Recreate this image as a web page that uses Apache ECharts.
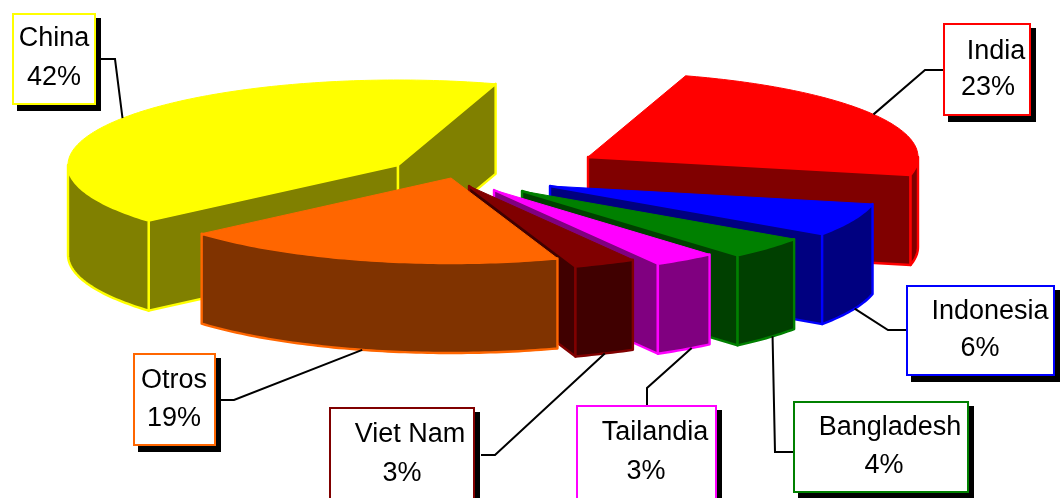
<!DOCTYPE html>
<html><head><meta charset="utf-8">
<style>html,body{margin:0;padding:0;background:#fff}#c{width:1060px;height:498px}</style>
<script src="https://cdn.jsdelivr.net/npm/echarts@6/dist/echarts.min.js"></script>
</head><body><div id="c"></div>
<script>
// data
var categories = ['China','India','Indonesia','Bangladesh','Tailandia','Viet Nam','Otros'];
var shares = [42,23,6,4,3,3,19];
// styles
var topColors = ['#FFFF00','#FF0000','#0000FF','#008000','#FF00FF','#800000','#FF6600'];
var sideColors = ['#808000','#800000','#000080','#004000','#800080','#400000','#803300'];
// pie layout: hub of every exploded slice, ellipse radii, extrusion depth, perspective warp (deg)
var hubX = [398,588,550,522,494,469,451];
var hubY = [165,157,186,191,190,186,178];
var radiusX = 330, radiusY = 85, depth = 90, startAngle = 19, warp = 1.9;
// callout layout
var boxRect = [[13,14,82,90],[944,24,86,91],[907,286,147,89],[794,402,174,90],[577,406,139,96],[330,408,144,94],[134,354,81,91]];
var textCx = [[54,54],[996,988],[990,980],[890,884],[655,646],[410,402],[174,174]];
var textCy = [[39,78],[52,88],[312,349],[428,466],[433,472],[435,474],[381,419]];
var elbow = [[[100,59],[115,59]],[[943,70],[925,70]],[[906,330],[888,330]],[[793,452],[775,452]],[[647,405],[647,388]],[[481,455],[495,455]],[[220,400],[234,400]]];
var leaderNudgeDeg = [0,-0.5,0,0,0,1.7,2];

var total = shares.reduce(function(a,b){return a+b;},0);
var spans = [], acc = startAngle - shares[0]/total*360;
shares.forEach(function(v){ var d=v/total*360; spans.push([acc,acc+d]); acc+=d; });
function ellipsePoint(i,deg){ var r=deg*Math.PI/180; return [hubX[i]+Math.sin(r)*radiusX, hubY[i]-Math.cos(r)*radiusY]; }
function rim(i,t){ return ellipsePoint(i,t-warp*Math.cos(t*Math.PI/180)); }
function arc(i,a,b,dy){ var pts=[], n=Math.max(2,Math.ceil(Math.abs(b-a))); for(var k=0;k<=n;k++){ var p=rim(i,a+(b-a)*k/n); pts.push([p[0],p[1]+(dy||0)]); } return pts; }
function poly(points,fill,stroke,w){ return {type:'polygon',shape:{points:points},style:{fill:fill,stroke:stroke,lineWidth:w,lineJoin:'round'}}; }

function renderSlice(params){
  var i=params.dataIndex, a=spans[i][0], b=spans[i][1], kids=[], hub=[hubX[i],hubY[i]];
  var top=topColors[i], side=sideColors[i], w=2.4;
  function face(t){ var p=rim(i,t); return poly([hub,p,[p[0],p[1]+depth],[hub[0],hub[1]+depth]],side,top,w); }
  if(Math.sin(a*Math.PI/180)<0) kids.push(face(a));
  if(Math.sin(b*Math.PI/180)>0) kids.push(face(b));
  // visible outer wall: the part of the rim facing the viewer
  [[-270,-90],[90,270]].forEach(function(r){
    var s=Math.max(a,r[0]), e=Math.min(b,r[1]);
    if(e>s){ kids.push(poly(arc(i,s,e,0).concat(arc(i,e,s,depth)),side,top,w)); }
  });
  kids.push(poly([hub].concat(arc(i,a,b,0)),top,top,1));
  return {type:'group',children:kids};
}
function renderCallout(params){
  var i=params.dataIndex, r=boxRect[i], kids=[];
  var mid=(spans[i][0]+spans[i][1])/2+leaderNudgeDeg[i], p=ellipsePoint(i,mid);
  if(Math.cos(mid*Math.PI/180)<0) p=[p[0],p[1]+depth];
  kids.push({type:'polyline',shape:{points:elbow[i].concat([p])},style:{fill:null,stroke:'#000',lineWidth:2}});
  kids.push({type:'rect',shape:{x:r[0]+4,y:r[1]+4,width:r[2]+2,height:r[3]+3},style:{fill:'#000'}});
  kids.push({type:'rect',shape:{x:r[0],y:r[1],width:r[2],height:r[3]},style:{fill:'#fff',stroke:topColors[i],lineWidth:2}});
  var lines=[categories[i],shares[i]+'%'];
  lines.forEach(function(t,k){
    kids.push({type:'text',style:{text:t,x:textCx[i][k],y:textCy[i][k],align:'center',verticalAlign:'middle',fill:'#000',font:'27px "Liberation Sans", Arial, sans-serif'}});
  });
  return {type:'group',children:kids};
}
var rows=categories.map(function(n,i){return {name:n,value:shares[i]};});
var chart=echarts.init(document.getElementById('c'),null,{renderer:'canvas'});
chart.setOption({
  animation:false,
  backgroundColor:'#fff',
  tooltip:{show:false},
  series:[
    {type:'custom',coordinateSystem:'none',silent:true,z:2,data:rows,renderItem:renderSlice},
    {type:'custom',coordinateSystem:'none',silent:true,z:3,data:rows,renderItem:renderCallout}
  ]
});
</script></body></html>
